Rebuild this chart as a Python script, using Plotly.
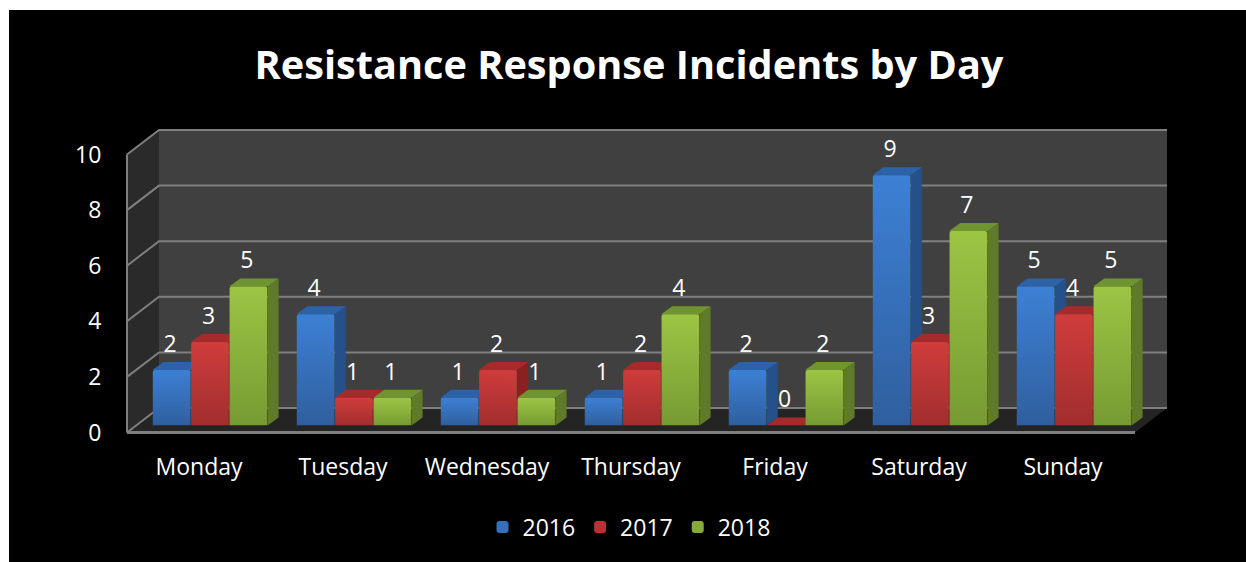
import plotly.graph_objects as go

days = ["Monday", "Tuesday", "Wednesday", "Thursday", "Friday", "Saturday", "Sunday"]
years = ["2016", "2017", "2018"]
v2016 = [2, 4, 1, 1, 2, 9, 5]
v2017 = [3, 1, 2, 2, 0, 3, 4]
v2018 = [5, 1, 1, 4, 2, 7, 5]
y_ticks = [0, 2, 4, 6, 8, 10]
chart_title = "Resistance Response Incidents by Day"

front_colors = ["#3570B8", "#B73232", "#86AB3A"]
side_colors = ["#25508A", "#8A2020", "#5F7A28"]
top_colors = ["#2C62A8", "#A52A2A", "#6F9430"]
grad_top = ["#3D80D4", "#D03C3C", "#9CC544"]
grad_bot = ["#2F5F9E", "#A12E2E", "#769A32"]

W, H = 1246, 562
FONT = "Open Sans"
series = [v2016, v2017, v2018]

UNIT_Y = 27.8
SLOT = 144.0
front_x0, base_front = 127.0, 432.5
bar_x0, base_bar = 138.0, 425.5
WALL_PX_X, WALL_PX_Y = 32.0, 24.5
wall_dx, wall_dy = WALL_PX_X / SLOT, WALL_PX_Y / UNIT_Y
bar_dx, bar_dy = 11 / SLOT, 8 / UNIT_Y
BAR_W = 0.8 / 3
PAD = 4.0


def xdom(x0):
    return [x0 / W, (x0 + 7 * SLOT) / W]


def ydom(base):
    return [1 - base / H, 1 - (base - 10 * UNIT_Y) / H]


fig = go.Figure()

L, R, T = -0.5, 6.5, 10
walls = [
    ([L, L + wall_dx, L + wall_dx, L, L], [0, wall_dy, T + wall_dy, T, 0], "#2A2A2A"),
    ([L + wall_dx, R + wall_dx, R + wall_dx, L + wall_dx, L + wall_dx],
     [wall_dy, wall_dy, T + wall_dy, T + wall_dy, wall_dy], "#404040"),
    ([L, R, R + wall_dx, L + wall_dx, L], [0, 0, wall_dy, wall_dy, 0], "#242424"),
]
for xs, ys, c in walls:
    fig.add_trace(go.Scatter(x=xs, y=ys, mode="lines", fill="toself", fillcolor=c,
                             line=dict(width=0), hoverinfo="skip", showlegend=False,
                             xaxis="x", yaxis="y"))
gx, gy = [], []
for t in y_ticks:
    gx += [L, L + wall_dx, R + wall_dx, None]
    gy += [t, t + wall_dy, t + wall_dy, None]
gx += [L, L]
gy += [0, T]
fig.add_trace(go.Scatter(x=gx, y=gy, mode="lines", line=dict(color="#7F7F7F", width=2),
                         hoverinfo="skip", showlegend=False, xaxis="x", yaxis="y"))
fig.add_trace(go.Scatter(x=[L, R], y=[0, 0], mode="lines", line=dict(color="#7F7F7F", width=3),
                         hoverinfo="skip", showlegend=False, xaxis="x", yaxis="y"))

for s, vals in enumerate(series):
    off = (s - 1) * BAR_W
    sx, sy, tx, ty = [], [], [], []
    for i, v in enumerate(vals):
        a, b = i + off - BAR_W / 2, i + off + BAR_W / 2
        sx += [b, b + bar_dx, b + bar_dx, b, b, None]
        sy += [0, bar_dy, v + bar_dy, v, 0, None]
        tx += [a, b, b + bar_dx, a + bar_dx, a, None]
        ty += [v, v, v + bar_dy, v + bar_dy, v, None]
    fig.add_trace(go.Scatter(x=sx, y=sy, mode="lines", fill="toself", fillcolor=side_colors[s],
                             line=dict(width=0), hoverinfo="skip", showlegend=False,
                             xaxis="x2", yaxis="y2"))
    fig.add_trace(go.Scatter(x=tx, y=ty, mode="lines", fill="toself", fillcolor=top_colors[s],
                             line=dict(width=0), hoverinfo="skip", showlegend=False,
                             xaxis="x2", yaxis="y2"))

idx = list(range(len(days)))
for s, vals in enumerate(series):
    fig.add_trace(go.Bar(x=idx, y=vals, name=years[s], marker=dict(color=front_colors[s], cornerradius=2,
                         line=dict(width=0)), xaxis="x3", yaxis="y3", offsetgroup=str(s)))

for s, vals in enumerate(series):
    off = (s - 1) * BAR_W - 1.5 / SLOT
    fig.add_trace(go.Scatter(x=[i + off for i in idx], y=[v + 0.86 for v in vals],
                             text=[str(v) for v in vals], mode="text", textposition="middle center",
                             textfont=dict(family=FONT, size=23, color="white"),
                             hoverinfo="skip", showlegend=False, cliponaxis=False,
                             xaxis="x3", yaxis="y3"))

xpad, ypad = PAD / SLOT, PAD / UNIT_Y
fig.update_layout(
    width=W, height=H, margin=dict(l=0, r=0, t=0, b=0, autoexpand=False),
    paper_bgcolor="white", plot_bgcolor="rgba(0,0,0,0)",
    barmode="group", bargap=0.2, bargroupgap=0.02,
    font=dict(family=FONT, color="white", size=23),
    title=dict(text="<b>" + chart_title + "</b>", x=629 / W, xanchor="center",
               y=1 - 65 / H, yanchor="middle", font=dict(family=FONT, size=39.7, color="white")),
    legend=dict(orientation="h", x=629 / W, xanchor="center", y=1 - 527 / H, yanchor="middle",
                bgcolor="rgba(0,0,0,0)", font=dict(family=FONT, size=23, color="white"),
                itemwidth=30, traceorder="normal"),
    xaxis=dict(domain=[(front_x0 - PAD) / W, (front_x0 + 7 * SLOT + WALL_PX_X + PAD) / W],
               range=[L - xpad, R + wall_dx + xpad], tickmode="array", tickvals=idx, ticktext=days,
               showgrid=False, zeroline=False, showline=False, ticks="outside", ticklen=10,
               tickcolor="rgba(0,0,0,0)", tickfont=dict(family=FONT, size=23, color="white"),
               anchor="y", fixedrange=True),
    yaxis=dict(domain=[1 - (base_front + PAD) / H, 1 - (base_front - 10 * UNIT_Y - WALL_PX_Y - PAD) / H],
               range=[-ypad, T + wall_dy + ypad], tickmode="array", tickvals=y_ticks,
               showgrid=False, zeroline=False, showline=False, ticks="outside", ticklen=12 + PAD,
               tickcolor="rgba(0,0,0,0)", tickfont=dict(family=FONT, size=23, color="white"),
               anchor="x", fixedrange=True),
    xaxis2=dict(domain=xdom(bar_x0), range=[L, R], visible=False, anchor="y2", fixedrange=True),
    yaxis2=dict(domain=ydom(base_bar), range=[0, 10], visible=False, anchor="x2", fixedrange=True),
    xaxis3=dict(domain=xdom(bar_x0), range=[L, R], visible=False, anchor="y3", overlaying="x2",
                fixedrange=True),
    yaxis3=dict(domain=ydom(base_bar), range=[0, 10], visible=False, anchor="x3", overlaying="y2",
                fixedrange=True),
    shapes=[dict(type="rect", xref="paper", yref="paper", x0=9 / W, x1=1, y0=0, y1=1 - 10 / H,
                 fillcolor="black", line=dict(width=0), layer="below")],
    hovermode=False,
)

post = """
document.body.style.margin = '0';
var gd = document.querySelector('.plotly-graph-div');
var top_c = %s, bot_c = %s;
function paint() {
  var svg = gd.querySelector('svg.main-svg');
  var NS = 'http://www.w3.org/2000/svg';
  var defs = svg.querySelector('#bargrads');
  if (!defs) {
    defs = document.createElementNS(NS, 'defs'); defs.id = 'bargrads';
    top_c.forEach(function (c, i) {
      var g = document.createElementNS(NS, 'linearGradient');
      g.id = 'bargrad' + i;
      g.setAttribute('x1', '0'); g.setAttribute('y1', '0');
      g.setAttribute('x2', '0'); g.setAttribute('y2', '1');
      [[0, c], [1, bot_c[i]]].forEach(function (p) {
        var st = document.createElementNS(NS, 'stop');
        st.setAttribute('offset', p[0]); st.setAttribute('stop-color', p[1]);
        g.appendChild(st);
      });
      defs.appendChild(g);
    });
    svg.insertBefore(defs, svg.firstChild);
  }
  gd.querySelectorAll('.barlayer .trace.bars').forEach(function (t, i) {
    t.querySelectorAll('path').forEach(function (p) { p.style.fill = 'url(#bargrad' + i + ')'; });
  });
}
paint();
gd.on('plotly_afterplot', paint);
""" % (grad_top, grad_bot)

fig.write_html("out.html", post_script=post, config={"displayModeBar": False})
